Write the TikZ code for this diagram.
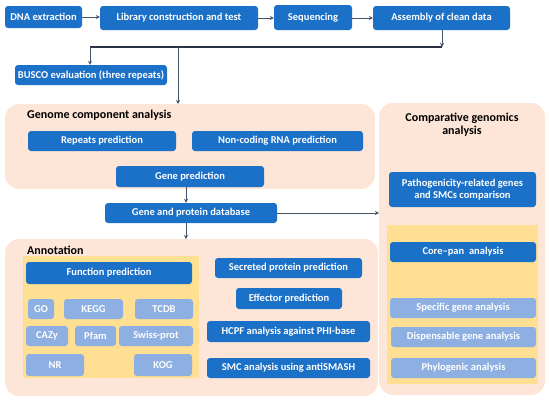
\documentclass[tikz,border=0pt]{standalone}
\usepackage{fontspec}
\setmainfont{Carlito}
\usetikzlibrary{arrows.meta}
\definecolor{dblue}{HTML}{1B70C8}
\definecolor{lblue}{HTML}{8DAFE2}
\definecolor{peach}{HTML}{FDE5D8}
\definecolor{yel}{HTML}{FFDF92}
\definecolor{arr}{HTML}{44546A}
\tikzset{
  db/.style={fill=dblue, rounded corners=3pt, text=white, font=\fontsize{10.5}{12.5}\selectfont\bfseries, inner sep=0pt, align=center},
  lb/.style={fill=lblue, rounded corners=3pt, text=white, font=\fontsize{10.5}{12.5}\selectfont\bfseries, inner sep=0pt, align=center},
  ttl/.style={text=black, font=\fontsize{12}{13.5}\selectfont\bfseries, inner sep=0pt, align=center},
  ar/.style={draw=arr, line width=1pt, -{Stealth[length=4pt,width=4pt]}},
  ln/.style={draw=arr, line width=1pt},
}
\begin{document}
\begin{tikzpicture}[x=1pt,y=-1pt]
\useasboundingbox (0,0) rectangle (550,402);
% panels
\path[fill=peach, rounded corners=14pt] (5,104) rectangle (375,189);
\path[fill=peach, rounded corners=14pt] (5,239) rectangle (378,396);
\path[fill=peach, rounded corners=14pt] (379,103) rectangle (545,395);
\path[fill=yel] (23,256) rectangle (199,378);
\path[fill=yel] (387,225) rectangle (538,384);
\node[ttl, anchor=west] (tgen) at (27,115) {Genome component analysis};
\node[ttl, anchor=west] (tann) at (27,250) {Annotation};
\node[ttl] (tcmp) at (462,124.5) {Comparative genomics\\analysis};
% top row
\node[db, minimum width=77pt, minimum height=22pt] (dna) at (43.5,17) {DNA extraction};
\node[db, minimum width=158pt, minimum height=24pt] (lib) at (179,18) {Library construction and test};
\node[db, minimum width=78pt, minimum height=25pt] (seq) at (313,17.5) {Sequencing};
\node[db, minimum width=137pt, minimum height=24pt] (asm) at (441.5,18) {Assembly of clean data};
\node[db, minimum width=152pt, minimum height=20pt] (busco) at (91,75) {BUSCO evaluation (three repeats)};
% genome component
\node[db, minimum width=148pt, minimum height=20pt] (rep) at (102,141) {Repeats prediction};
\node[db, minimum width=171pt, minimum height=20pt] (nc) at (277.5,141) {Non-coding RNA prediction};
\node[db, minimum width=148pt, minimum height=21pt] (gp) at (190,176.5) {Gene prediction};
\node[db, minimum width=172pt, minimum height=20pt] (gpdb) at (191,213) {Gene and protein database};
% annotation
\node[db, minimum width=166pt, minimum height=22pt] (func) at (109,273) {Function prediction};
\node[lb, minimum width=26pt, minimum height=20pt] (go) at (41,309) {GO};
\node[lb, minimum width=59pt, minimum height=20pt] (kegg) at (93.5,309) {KEGG};
\node[lb, minimum width=58pt, minimum height=20pt] (tcdb) at (164,309) {TCDB};
\node[lb, minimum width=42pt, minimum height=20pt] (cazy) at (47,336) {CAZy};
\node[lb, minimum width=41pt, minimum height=20pt] (pfam) at (95.5,336) {Pfam};
\node[lb, minimum width=74pt, minimum height=20pt] (swiss) at (156,336) {Swiss-prot};
\node[lb, minimum width=58pt, minimum height=22pt] (nr) at (55,365) {NR};
\node[lb, minimum width=58pt, minimum height=22pt] (kog) at (163,365) {KOG};
\node[db, minimum width=147pt, minimum height=20pt] (secr) at (288.5,268) {Secreted protein prediction};
\node[db, minimum width=106pt, minimum height=21pt] (eff) at (289,298.5) {Effector prediction};
\node[db, minimum width=163pt, minimum height=21pt] (hcpf) at (288.5,331.5) {HCPF analysis against PHI-base};
\node[db, minimum width=163pt, minimum height=20pt] (smc) at (288.5,368) {SMC analysis using antiSMASH};
% comparative
\node[db, minimum width=147pt, minimum height=35pt] (path) at (462.5,189.5) {Pathogenicity-related genes\\and SMCs comparison};
\node[db, minimum width=146pt, minimum height=20pt] (core) at (463,252) {Core–pan\ \ analysis};
\node[lb, minimum width=146pt, minimum height=20pt] (spec) at (463,308) {Specific gene analysis};
\node[lb, minimum width=145pt, minimum height=20pt] (disp) at (463.5,337) {Dispensable gene analysis};
\node[lb, minimum width=145pt, minimum height=20pt] (phyl) at (463.5,368) {Phylogenic analysis};
% junction coordinates
\coordinate (jr) at (442,47);
\coordinate (jl) at (90,47);
\coordinate (jm) at (178,47);
\coordinate (gtop) at (178,104);
\coordinate (atop) at (186,239);
\coordinate (cleft) at (379,213);
% connectors
\draw[ar] (dna.east) -- (lib.west |- dna.east);
\draw[ar] (lib.east) -- (seq.west |- lib.east);
\draw[ar] (seq.east |- asm.west) -- (asm.west);
\draw[ar] (asm.south -| jr) -- (jr);
\draw[draw=arr!60!black, line width=1.3pt] (jr) -- (jl);
\draw[ar] (jl) -- (busco.north -| jl);
\draw[ar] (jm) -- (gtop);
\draw[ar] (gp.south -| atop) -- (gpdb.north -| atop);
\draw[ar] (gpdb.south -| atop) -- (atop);
\draw[ar] (gpdb.east) -- (cleft);
\end{tikzpicture}
\end{document}
